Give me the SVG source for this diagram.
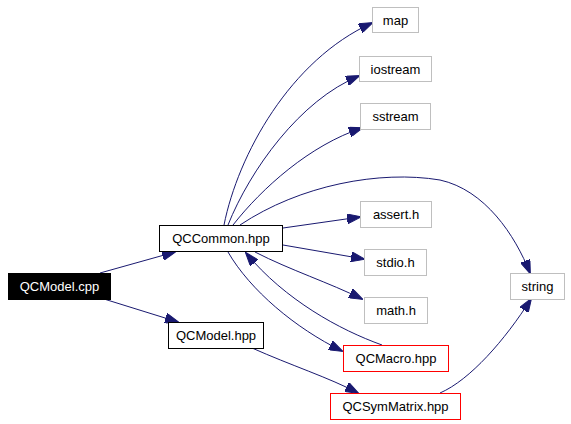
<svg xmlns="http://www.w3.org/2000/svg" width="571" height="424" viewBox="0 0 571 424">
<style>
.n rect{fill:#fff;stroke-width:1}
.g rect{stroke:#bfbfbf}
.b rect{stroke:#000}
.r rect{stroke:#ff0000}
text{font-family:"Liberation Sans",Arial,sans-serif;font-size:13px;text-anchor:middle;fill:#000}
.e path{fill:none;stroke:#191970;stroke-width:1;marker-end:url(#a)}
</style>
<defs>
<marker id="a" viewBox="0 0 14 10" refX="13" refY="5" markerWidth="14" markerHeight="10" markerUnits="userSpaceOnUse" orient="auto">
<path d="M0,0 L14,5 L0,10 Z" fill="#191970" stroke="#191970"/>
</marker>
</defs>
<rect width="571" height="424" fill="#fff"/>
<g class="e">
<path d="M100,273 L175,252"/>
<path d="M104,299 L178,322"/>
<path d="M224,225 C238,155 290,60 372,23"/>
<path d="M228,225 C250,170 300,100 359,76"/>
<path d="M233,225 C262,188 310,145 362,128"/>
<path d="M240,225 C300,185 380,170 440,180 C485,190 515,235 530,273"/>
<path d="M283,228 L360,217"/>
<path d="M283,245 L364,259"/>
<path d="M255,252 C290,270 330,283 362,299"/>
<path d="M228,252 C250,290 295,328 342,351"/>
<path d="M382,345 C340,330 285,300 246,253"/>
<path d="M252,348 C290,365 330,378 358,393"/>
<path d="M440,393 C470,380 505,340 531,299"/>
</g>
<g id="QCModel_cpp"><rect x="8.5" y="273.5" width="102" height="26" fill="#000" stroke="#000"/><text x="59.5" y="291" fill="#fff" style="fill:#fff">QCModel.cpp</text></g>
<g id="QCCommon_hpp" class="n b"><rect x="159.5" y="225.5" width="123" height="26"/><text x="221" y="243">QCCommon.hpp</text></g>
<g id="QCModel_hpp" class="n b"><rect x="168.5" y="322.5" width="95" height="26"/><text x="216" y="340">QCModel.hpp</text></g>
<g id="map" class="n g"><rect x="372.5" y="7.5" width="46" height="25"/><text x="395.5" y="24.5">map</text></g>
<g id="iostream" class="n g"><rect x="359.5" y="56.5" width="72" height="25"/><text x="395.5" y="73.5">iostream</text></g>
<g id="sstream" class="n g"><rect x="360.5" y="103.5" width="70" height="26"/><text x="395.5" y="121">sstream</text></g>
<g id="assert_h" class="n g"><rect x="360.5" y="201.5" width="71" height="26"/><text x="396" y="219">assert.h</text></g>
<g id="stdio_h" class="n g"><rect x="364.5" y="249.5" width="62" height="26"/><text x="395.5" y="267">stdio.h</text></g>
<g id="math_h" class="n g"><rect x="364.5" y="297.5" width="63" height="26"/><text x="396" y="315">math.h</text></g>
<g id="string" class="n g"><rect x="510.5" y="273.5" width="54" height="26"/><text x="537.5" y="291">string</text></g>
<g id="QCMacro_hpp" class="n r"><rect x="343.5" y="345.5" width="105" height="26"/><text x="396" y="363">QCMacro.hpp</text></g>
<g id="QCSymMatrix_hpp" class="n r"><rect x="330.5" y="393.5" width="130" height="26"/><text x="395.5" y="411">QCSymMatrix.hpp</text></g>
</svg>
